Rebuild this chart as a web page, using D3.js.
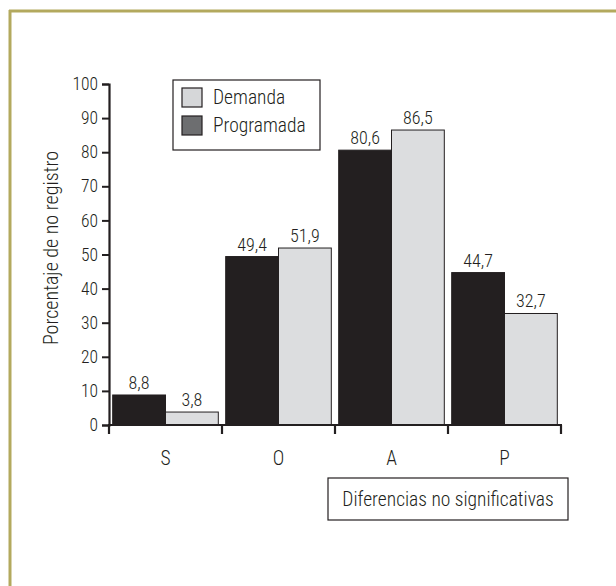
<!DOCTYPE html>
<head>
  <meta charset="utf-8">
  <script src="https://d3js.org/d3.v7.min.js"></script>
  <style>
    body { margin:0; background:#fff; }
    text { font-family: "Roboto Condensed", "Liberation Sans Narrow", sans-serif; font-weight:300; fill:#231f20; }
  </style>
</head>
<body>
  <svg id="chart" width="616" height="586"></svg>
  <script>
    // data
    const categories = ["S", "O", "A", "P"];
    const series = ["Programada", "Demanda"];
    const programada = [8.8, 49.4, 80.6, 44.7];
    const demanda = [3.8, 51.9, 86.5, 32.7];
    const yTicks = [0, 10, 20, 30, 40, 50, 60, 70, 80, 90, 100];

    const fill = {Programada: "#231f20", Demanda: "#dcdddf"};
    const legendFill = {Demanda: "#d6d7d9", Programada: "#6d6e70"};

    const svg = d3.select("#chart");

    // olive frame (top + left only)
    svg.append("line").attr("x1", 9).attr("x2", 616).attr("y1", 11).attr("y2", 11)
      .attr("stroke", "#b3a95e").attr("stroke-width", 3);
    svg.append("line").attr("x1", 10).attr("x2", 10).attr("y1", 10).attr("y2", 586)
      .attr("stroke", "#b3a95e").attr("stroke-width", 3);

    const x0 = 109, x1 = 561, yTop = 84, yBot = 425;

    const x = d3.scaleBand().domain(categories).range([x0, x1]).paddingInner(0).paddingOuter(0);
    const xs = d3.scaleBand().domain(series).range([0, x.bandwidth()]).paddingInner(0).paddingOuter(0.07);
    const y = d3.scaleLinear().domain([0, 100]).range([yBot, yTop]);

    const rows = categories.map((c, i) => ({cat: c, vals: [
      {s: "Programada", v: programada[i]}, {s: "Demanda", v: demanda[i]}]}));

    const g = svg.append("g");
    const grp = g.selectAll("g.cat").data(rows).enter().append("g")
      .attr("transform", d => `translate(${x(d.cat)},0)`);

    grp.selectAll("rect").data(d => d.vals).enter().append("rect")
      .attr("x", d => xs(d.s))
      .attr("width", xs.bandwidth())
      .attr("y", d => y(d.v))
      .attr("height", d => y(0) - y(d.v))
      .attr("fill", d => fill[d.s])
      .attr("stroke", "#231f20")
      .attr("stroke-width", 1);

    grp.selectAll("text.val").data(d => d.vals).enter().append("text")
      .attr("class", "val")
      .attr("x", d => xs(d.s) + xs.bandwidth() / 2)
      .attr("y", d => y(d.v) - 6)
      .attr("text-anchor", "middle")
      .style("font-size", "18px")
      .text(d => d3.format(".1f")(d.v).replace(".", ","));

    // y axis
    const yAxis = g.append("g").attr("transform", `translate(${x0},0)`)
      .call(d3.axisLeft(y).tickValues(yTicks).tickSize(7).tickPadding(4));
    yAxis.select(".domain").attr("stroke", "#231f20").attr("stroke-width", 2.2);
    yAxis.selectAll(".tick line").attr("stroke", "#231f20").attr("stroke-width", 2);
    yAxis.selectAll(".tick text").style("font-size", "17.5px")
      .style("font-family", "'Roboto Condensed', sans-serif").style("font-weight", 300)
      .attr("fill", "#231f20");

    // x axis with downward ticks at band edges
    const xAxis = g.append("g").attr("transform", `translate(0,${yBot})`);
    xAxis.append("line").attr("x1", x0 - 1).attr("x2", x1 + 1)
      .attr("stroke", "#231f20").attr("stroke-width", 2.2);
    const edges = categories.map(c => x(c)).concat([x1]);
    xAxis.selectAll("line.edge").data(edges).enter().append("line")
      .attr("class", "edge")
      .attr("x1", d => d).attr("x2", d => d).attr("y1", 0).attr("y2", 9)
      .attr("stroke", "#231f20").attr("stroke-width", 2.2);
    xAxis.selectAll("text").data(categories).enter().append("text")
      .attr("x", d => x(d) + x.bandwidth() / 2)
      .attr("y", 40)
      .attr("text-anchor", "middle")
      .style("font-size", "19.5px")
      .text(d => d);

    // y title
    svg.append("text")
      .attr("transform", "translate(58,248) rotate(-90)")
      .attr("text-anchor", "middle")
      .style("font-size", "20px")
      .text("Porcentaje de no registro");

    // legend
    const leg = svg.append("g").attr("transform", "translate(173,80)");
    leg.append("rect").attr("width", 147).attr("height", 70)
      .attr("fill", "#fff").attr("stroke", "#231f20").attr("stroke-width", 1.2);
    const li = leg.selectAll("g.item").data(["Demanda", "Programada"]).enter().append("g")
      .attr("transform", (d, i) => `translate(9,${8 + i * 28})`);
    li.append("rect").attr("width", 20).attr("height", 19)
      .attr("fill", d => legendFill[d]).attr("stroke", "#231f20").attr("stroke-width", 1.2);
    li.append("text").attr("x", 31).attr("y", 16).style("font-size", "19.5px").text(d => d);

    // note box
    const nb = svg.append("g").attr("transform", "translate(328,478)");
    nb.append("rect").attr("width", 240).attr("height", 42)
      .attr("fill", "#fff").attr("stroke", "#231f20").attr("stroke-width", 1.2);
    nb.append("text").attr("x", 120).attr("y", 28).attr("text-anchor", "middle")
      .style("font-size", "19.5px").text("Diferencias no significativas");
  </script>
</body>
